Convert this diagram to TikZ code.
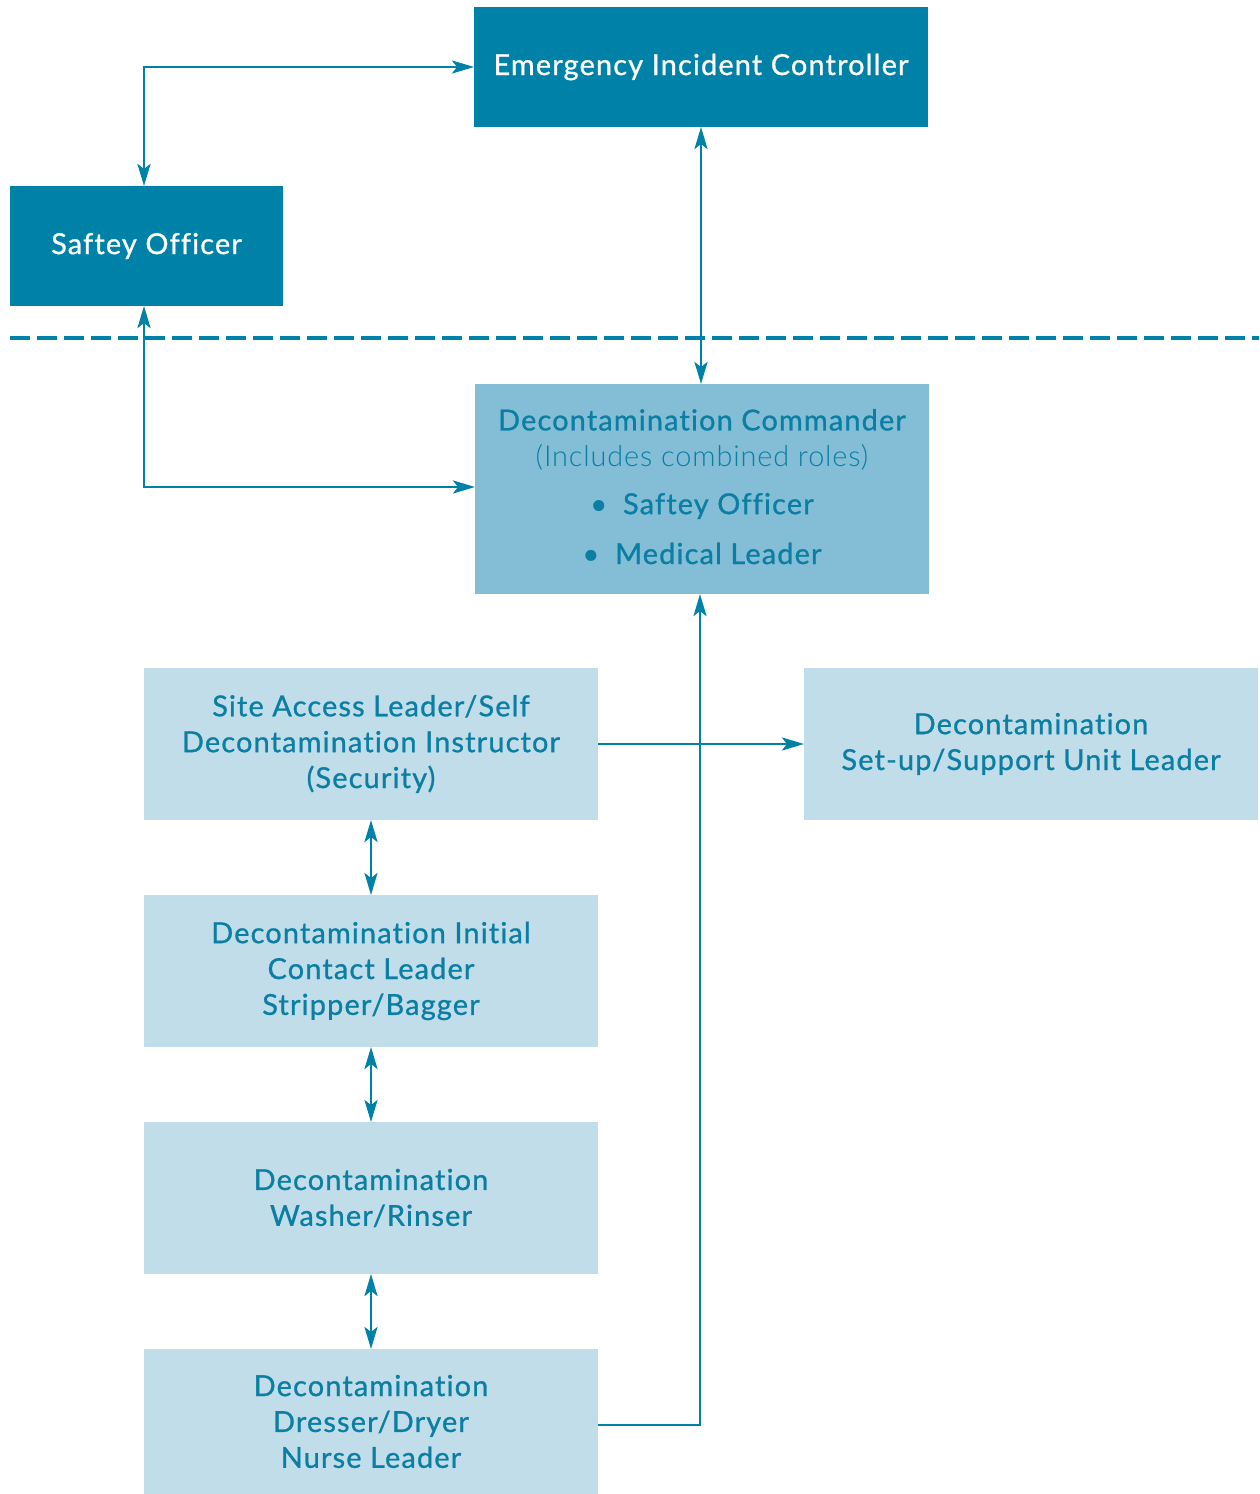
\documentclass[tikz,border=0pt]{standalone}
\usepackage{fontspec}
\setmainfont{Lato}[LetterSpace=4, FakeBold=0.9, Ligatures={NoCommon,NoRare,NoDiscretionary}]
\newfontfamily\lightfont{Lato Light}[LetterSpace=3, Ligatures={NoCommon,NoRare,NoDiscretionary}]
\usetikzlibrary{arrows.meta}
\definecolor{darkteal}{HTML}{0081A7}
\definecolor{midblue}{HTML}{84BDD6}
\definecolor{lightblue}{HTML}{C0DDE9}
\definecolor{txtblue}{HTML}{0A7FA3}
\tikzset{
  x=1bp, y=-1bp,
  box/.style={rectangle, inner sep=0pt, outer sep=0pt, align=center, font=\fontsize{29}{36}\selectfont},
  darkbox/.style={box, fill=darkteal, text=white},
  midbox/.style={box, fill=midblue, text=txtblue},
  lightbox/.style={box, fill=lightblue, text=txtblue},
  plaintext/.style={box, text=txtblue},
  conn/.style={draw=darkteal, line width=2.7bp, -{Stealth[length=22bp,width=13bp,inset=5bp]}},
  bconn/.style={draw=darkteal, line width=2.7bp, {Stealth[length=22bp,width=13bp,inset=5bp]}-{Stealth[length=22bp,width=13bp,inset=5bp]}},
  sepline/.style={draw=darkteal, line width=4bp, dash pattern=on 20bp off 7bp}
}
\begin{document}
\begin{tikzpicture}
\useasboundingbox (0,0) rectangle (1259,1494);
\node[darkbox, minimum width=454bp, minimum height=120bp] (eic) at (701,67) {Emergency Incident Controller};
\node[darkbox, minimum width=273bp, minimum height=120bp] (so) at (146.5,246) {Saftey Officer};
\node[midbox, minimum width=454bp, minimum height=210bp] (dc) at (702,489) {};
\node[plaintext, anchor=base] (dct) at (702,564) {Decontamination Commander\\{\lightfont (Includes combined roles)}\\[12bp]\textbullet\hspace{16bp}Saftey Officer\\[14bp]\textbullet\hspace{16bp}Medical Leader};
\node[lightbox, minimum width=454bp, minimum height=152bp] (sal) at (371,744) {Site Access Leader/Self\\Decontamination Instructor\\(Security)};
\node[lightbox, minimum width=454bp, minimum height=152bp] (setup) at (1031,744) {Decontamination\\Set-up/Support Unit Leader};
\node[lightbox, minimum width=454bp, minimum height=152bp] (ic) at (371,971) {Decontamination Initial\\Contact Leader\\Stripper/Bagger};
\node[lightbox, minimum width=454bp, minimum height=152bp] (wash) at (371,1198) {Decontamination\\Washer/Rinser};
\node[lightbox, minimum width=454bp, minimum height=145bp] (dress) at (371,1421.5) {Decontamination\\Dresser/Dryer\\Nurse Leader};
\coordinate (dl) at (10,338);
\coordinate (dr) at (1259,338);
\draw[sepline] (dl) -- (dr);
\draw[bconn] ([xshift=-2.5bp]so.north) |- (eic.west);
\draw[bconn] (eic.south) -- ([xshift=-1bp]dc.north);
\draw[bconn] ([xshift=-2.5bp]so.south) |- ([yshift=2bp]dc.west);
\draw[conn] (sal.east) -- (setup.west);
\draw[bconn] (sal.south) -- (ic.north);
\draw[bconn] (ic.south) -- (wash.north);
\draw[bconn] (wash.south) -- (dress.north);
\draw[conn] ([yshift=-3.5bp]dress.east) -| ([xshift=-2bp]dc.south);
\end{tikzpicture}
\end{document}
